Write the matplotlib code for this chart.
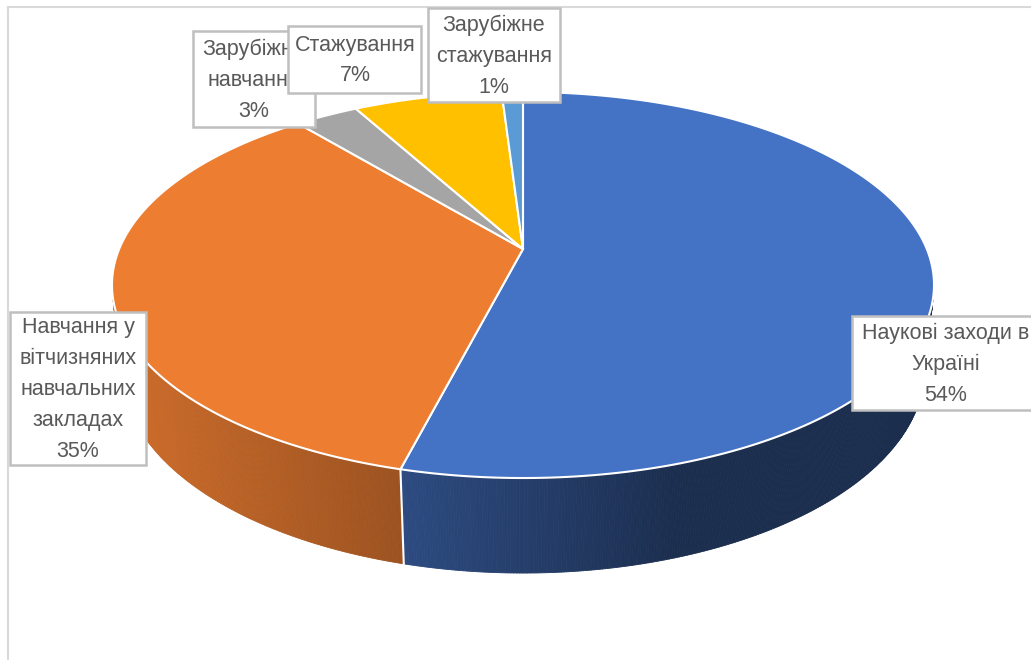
import numpy as np
import matplotlib.pyplot as plt
from matplotlib.collections import PolyCollection
from matplotlib.patches import Rectangle, Polygon

# data
categories = ['Наукові заходи в Україні', 'Навчання у вітчизняних навчальних закладах',
              'Зарубіжне навчання', 'Стажування', 'Зарубіжне стажування']
label_lines = ['Наукові заходи в\nУкраїні', 'Навчання у\nвітчизняних\nнавчальних\nзакладах',
               'Зарубіжне\nнавчання', 'Стажування', 'Зарубіжне\nстажування']
shares = [54, 35, 3, 7, 1]
colors = ['#4472C4', '#ED7D31', '#A5A5A5', '#FFC000', '#5B9BD5']

# label boxes (x0, y0, x1, y1) in pixels, text centre
boxes = [(852, 316, 1045, 410), (10, 312, 146, 465), (193, 31, 315, 127),
         (288, 26, 421, 93), (428, 8, 560, 102)]
text_x = [946, 78, 254, 355, 494]

W, H = 1031, 660
fig = plt.figure(figsize=(W / 100, H / 100), dpi=100)
ax = fig.add_axes([0, 0, 1, 1])
ax.set_xlim(0, W)
ax.set_ylim(H, 0)
ax.axis('off')

# perspective camera for the 3d pie
apex_x, apex_y = 523, 249
F = 403.8
s_th, c_th = 0.4614, 0.8872
L = 4.757
depth = 0.2365


def proj(t, z):
    u, v = np.sin(t), np.cos(t)
    w = 1 + (c_th * v - s_th * z) / L
    return apex_x + F * u / w, apex_y - F * (v * s_th + z * c_th) / w


def shade(x):
    return np.interp(x, [113, 400, 680, 940], [0.87, 0.66, 0.40, 0.40])


frac = np.array(shares) / sum(shares)
edges = np.concatenate([[0], np.cumsum(frac)]) * 2 * np.pi

# visible side range
t_sil = np.arccos(-1 / (L * c_th))
vis0, vis1 = t_sil, 2 * np.pi - t_sil

# side walls
for i in range(len(shares)):
    t0, t1 = max(edges[i], vis0), min(edges[i + 1], vis1)
    if t1 <= t0:
        continue
    ts = np.linspace(t0, t1, int(np.degrees(t1 - t0) * 3) + 2)
    polys, cols = [], []
    base = np.array(plt.matplotlib.colors.to_rgb(colors[i]))
    for a, b in zip(ts[:-1], ts[1:]):
        xa, ya = proj(a, 0)
        xb, yb = proj(b, 0)
        xa2, ya2 = proj(a, -depth)
        xb2, yb2 = proj(b, -depth)
        polys.append([(xa, ya), (xb, yb), (xb2, yb2), (xa2, ya2)])
        cols.append(np.clip(base * shade((xa + xb) / 2), 0, 1))
    ax.add_collection(PolyCollection(polys, facecolors=cols, edgecolors=cols,
                                     linewidths=0.6, zorder=2))

# white line on side at slice boundaries
for t in edges[1:-1]:
    if vis0 < t < vis1:
        x0, y0 = proj(t, 0)
        x1, y1 = proj(t, -depth)
        ax.plot([x0, x1], [y0, y1], color='white', lw=1.5, zorder=3)

# top faces
for i in range(len(shares)):
    ts = np.linspace(edges[i], edges[i + 1], 200)
    xs, ys = proj(ts, 0)
    pts = [(apex_x, apex_y)] + list(zip(xs, ys))
    ax.add_patch(Polygon(pts, closed=True, fc=colors[i], ec='white', lw=1.5, zorder=4))

# chart frame
ax.plot([8, W], [7, 7], color='#D9D9D9', lw=1.5, zorder=5)
ax.plot([8, 8], [7, H], color='#D9D9D9', lw=1.5, zorder=5)

# labels
for i in range(len(shares)):
    x0, y0, x1, y1 = boxes[i]
    z = 6 + i
    ax.add_patch(Rectangle((x0, y0), x1 - x0, y1 - y0, fc='white', ec='#BFBFBF', lw=1.8, zorder=z))
    ax.text(text_x[i], (y0 + y1) / 2 + 1, label_lines[i] + '\n' + f'{shares[i]}%',
            ha='center', va='center', fontsize=15.5, color='#595959',
            family='Liberation Sans', linespacing=1.62, zorder=z + 0.5, clip_on=True)

fig.savefig('out.png', dpi=100)
